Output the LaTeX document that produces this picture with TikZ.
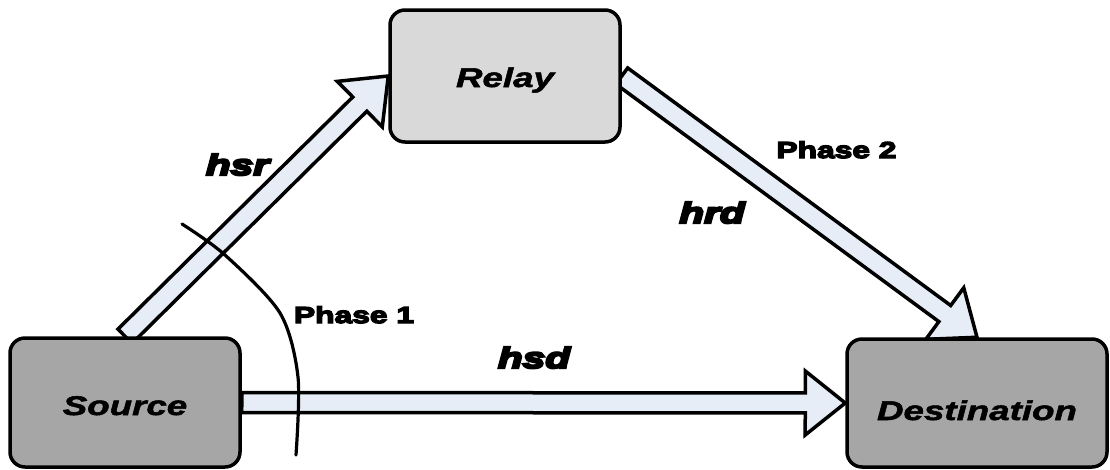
\documentclass[tikz,border=0pt]{standalone}
\usepackage{fontspec}
\usetikzlibrary{calc,backgrounds}
\newfontfamily\boxfont[FakeStretch=1.36,FakeBold=2]{Liberation Sans}
\newfontfamily\labfont[FakeStretch=1.4,FakeBold=8]{Liberation Sans}
\newfontfamily\phasefont[FakeStretch=1.38,FakeBold=6]{Liberation Sans}
\definecolor{darkbox}{RGB}{166,166,166}
\definecolor{lightbox}{RGB}{217,217,217}
\definecolor{arrowfill}{RGB}{231,237,247}
\tikzset{
  box/.style={draw, line width=3.5pt, rounded corners=15pt, text depth=0pt,
    font=\boxfont\bfseries\itshape\fontsize{27}{30}\selectfont},
  blockarrow/.style={draw, line width=3.5pt, fill=arrowfill, line join=miter, miter limit=10,
    to path={let \p1=(\tikztostart), \p2=(\tikztotarget), \n1={atan2(\y2-\y1,\x2-\x1)} in
      ($(\p1)+({\n1-90}:10pt)$)
      -- ($(\p2)+({\n1+180}:40pt)+({\n1-90}:10pt)$)
      -- ($(\p2)+({\n1+180}:40pt)+({\n1-90}:32pt)$)
      -- (\p2)
      -- ($(\p2)+({\n1+180}:40pt)+({\n1+90}:32pt)$)
      -- ($(\p2)+({\n1+180}:40pt)+({\n1+90}:10pt)$)
      -- ($(\p1)+({\n1+90}:10pt)$) -- cycle}},
  lab/.style={font=\labfont\bfseries\itshape\fontsize{29}{32}\selectfont, anchor=base, inner sep=0pt},
  phaselab/.style={font=\phasefont\bfseries\fontsize{23}{26}\selectfont, anchor=base, inner sep=0pt},
  phasearc/.style={line width=3.2pt, line cap=round}
}
\begin{document}
\begin{tikzpicture}[x=1pt,y=-1pt]
\useasboundingbox (0,0) rectangle (1110,469);
\node[box, fill=darkbox, minimum width=230pt, minimum height=129pt, text height=25pt] (source) at (125,402.5) {Source};
\node[box, fill=lightbox, minimum width=230pt, minimum height=132pt, text height=22pt] (relay) at (505,76) {Relay};
\node[box, fill=darkbox, minimum width=260pt, minimum height=128pt, text height=34pt] (destination) at (977,403) {Destination};
\begin{scope}[on background layer]
\draw[blockarrow] (source.east) to (destination.west);
\draw[blockarrow] (source.north) to (relay.west);
\draw[blockarrow] (relay.east) to (destination.north);
\end{scope}
\draw[phasearc] plot[smooth] coordinates {(182,224) (225,255) (280,313) (298,377) (296,455)};
\node[lab] (hsr) at (237.5,175) {hsr};
\node[lab] (hsd) at (534,368) {hsd};
\node[lab] (hrd) at (712,223) {hrd};
\node[phaselab] (phase1) at (354,323) {Phase 1};
\node[phaselab] (phase2) at (836.5,158) {Phase 2};
\end{tikzpicture}
\end{document}
